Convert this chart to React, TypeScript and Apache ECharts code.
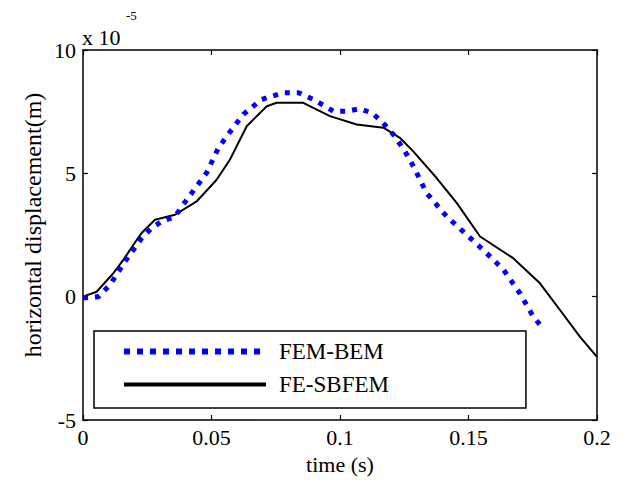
import React, { useEffect, useRef } from "react";
import * as echarts from "echarts";

const xTicks = [0, 0.05, 0.1, 0.15, 0.2];
const yTicks = [-5, 0, 5, 10];

const sbTime = [0, 0.0053, 0.0118, 0.0157, 0.0196, 0.0228, 0.028, 0.0358, 0.0442, 0.052, 0.0572, 0.0637, 0.0715, 0.0754, 0.0857, 0.0961, 0.1065, 0.1169, 0.1233, 0.1285, 0.1376, 0.1454, 0.1545, 0.1674, 0.1778, 0.1856, 0.1934, 0.2];
const sbVal = [0, 0.2, 0.95, 1.49, 2.1, 2.58, 3.12, 3.32, 3.86, 4.74, 5.56, 6.91, 7.72, 7.86, 7.86, 7.32, 6.98, 6.85, 6.44, 5.89, 4.81, 3.8, 2.44, 1.56, 0.54, -0.54, -1.63, -2.44];

const femTime = [0, 0.006, 0.0105, 0.0163, 0.0196, 0.0228, 0.0267, 0.0306, 0.0358, 0.039, 0.0423, 0.0481, 0.0527, 0.0559, 0.0624, 0.0695, 0.078, 0.0838, 0.0896, 0.0974, 0.1026, 0.1078, 0.1123, 0.1162, 0.1208, 0.1253, 0.1286, 0.1337, 0.1415, 0.1493, 0.1571, 0.1636, 0.17, 0.1752, 0.1785];
const femVal = [-0.05, 0.0, 0.48, 1.42, 1.9, 2.37, 2.78, 3.05, 3.25, 3.73, 4.2, 5.02, 6.03, 6.5, 7.39, 8.0, 8.27, 8.27, 8.0, 7.52, 7.52, 7.62, 7.45, 7.11, 6.57, 5.89, 5.28, 4.2, 3.25, 2.51, 1.76, 1.09, 0.14, -0.81, -1.22];

const seriesNames = ["FEM-BEM", "FE-SBFEM"];
const FONT = "'Liberation Serif', 'Times New Roman', 'DejaVu Serif', serif";

export default function App() {
  const ref = useRef<HTMLDivElement>(null);
  useEffect(() => {
    if (!ref.current) return;
    const chart = echarts.init(ref.current, null, { renderer: "svg" });
    const femData = femTime.map((t, i) => [t, femVal[i]]);
    const sbData = sbTime.map((t, i) => [t, sbVal[i]]);
    const axisLine = { show: true, onZero: false, lineStyle: { color: "#000", width: 1.5 } };
    const axisTick = { show: true, inside: true, length: 5, lineStyle: { color: "#000", width: 1.2 } };
    chart.setOption({
      animation: false,
      backgroundColor: "#fff",
      grid: { left: 83, right: 24, top: 50, bottom: 66, containLabel: false },
      xAxis: [
        {
          type: "value",
          min: xTicks[0],
          max: xTicks[xTicks.length - 1],
          interval: 0.05,
          position: "bottom",
          axisLine,
          axisTick,
          splitLine: { show: false },
          axisLabel: { color: "#000", fontFamily: FONT, fontSize: 22, margin: 6 },
          name: "time (s)",
          nameLocation: "middle",
          nameGap: 33,
          nameTextStyle: { color: "#000", fontFamily: FONT, fontSize: 22 },
        },
        {
          type: "value",
          min: xTicks[0],
          max: xTicks[xTicks.length - 1],
          interval: 0.05,
          position: "top",
          axisLine,
          axisTick,
          splitLine: { show: false },
          axisLabel: { show: false },
        },
      ],
      yAxis: [
        {
          type: "value",
          min: yTicks[0],
          max: yTicks[yTicks.length - 1],
          interval: 5,
          position: "left",
          axisLine,
          axisTick,
          splitLine: { show: false },
          axisLabel: { color: "#000", fontFamily: FONT, fontSize: 22, margin: 7 },
        },
        {
          type: "value",
          min: yTicks[0],
          max: yTicks[yTicks.length - 1],
          interval: 5,
          position: "right",
          axisLine,
          axisTick,
          splitLine: { show: false },
          axisLabel: { show: false },
        },
      ],
      legend: {
        show: true,
        orient: "vertical",
        left: 94,
        top: 331,
        padding: [9, 137, 12, 27],
        itemGap: 10,
        itemWidth: 142,
        itemHeight: 14,
        borderColor: "#000",
        borderWidth: 1.5,
        backgroundColor: "#fff",
        itemStyle: { color: "rgba(0,0,0,0)", borderWidth: 0, opacity: 0 },
        textStyle: { color: "#000", fontFamily: FONT, fontSize: 23, padding: [0, 0, 0, 8] },
        data: [
          { name: seriesNames[0], lineStyle: { color: "#0000ff", width: 6, type: [6, 7], cap: "butt" } },
          { name: seriesNames[1], lineStyle: { color: "#000", width: 4, type: "solid" } },
        ],
      },
      graphic: [
        {
          type: "text",
          left: 82,
          top: 26,
          style: { text: "x 10", fill: "#000", fontFamily: FONT, fontSize: 22 },
        },
        {
          type: "text",
          left: 126,
          top: 9,
          style: { text: "-5", fill: "#000", fontFamily: FONT, fontSize: 13 },
        },
        {
          type: "text",
          x: 21,
          y: 225,
          rotation: Math.PI / 2,
          style: {
            text: "horizontal displacement(m)",
            fill: "#000",
            fontFamily: FONT,
            fontSize: 24,
            align: "center",
            verticalAlign: "top",
          },
        },
      ],
      series: [
        {
          name: seriesNames[0],
          type: "line",
          data: femData,
          symbol: "none",
          lineStyle: { color: "#0000ff", width: 5, type: [5, 7], cap: "butt" },
          itemStyle: { color: "#0000ff" },
          z: 3,
        },
        {
          name: seriesNames[1],
          type: "line",
          data: sbData,
          symbol: "none",
          lineStyle: { color: "#000", width: 2 },
          itemStyle: { color: "#000" },
          z: 2,
        },
      ],
    });
    return () => chart.dispose();
  }, []);
  return <div ref={ref} style={{ width: 621, height: 486, position: "fixed", left: 0, top: 0 }} />;
}
